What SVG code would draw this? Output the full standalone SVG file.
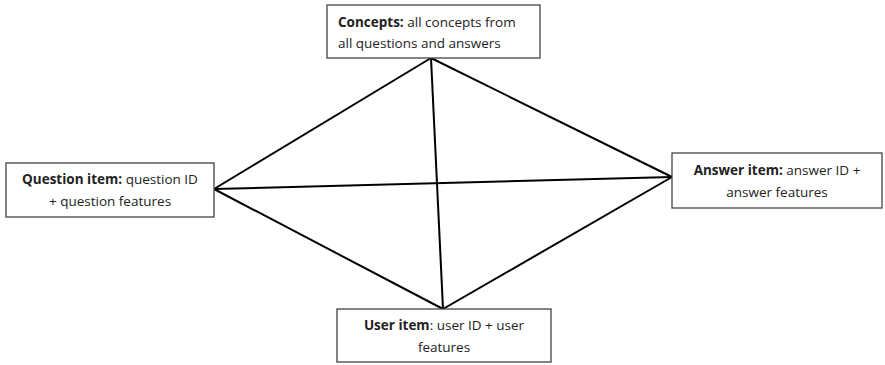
<svg xmlns="http://www.w3.org/2000/svg" width="885" height="365" viewBox="0 0 885 365">
<style>
.box{fill:#fff;stroke:#444;stroke-width:1.3}
.t{font-family:"Open Sans","Liberation Sans",sans-serif;font-size:13.5px;fill:#222}
.b{font-weight:bold}
.c{text-anchor:middle}
.ln{stroke:#000;stroke-width:2;fill:none}
</style>
<rect width="885" height="365" fill="#fff"/>
<g id="connectors">
<line class="ln" x1="431" y1="58" x2="214" y2="189"/>
<line class="ln" x1="431" y1="58" x2="672" y2="177"/>
<line class="ln" x1="431" y1="58" x2="443" y2="309"/>
<line class="ln" x1="214" y1="189" x2="672" y2="177"/>
<line class="ln" x1="214" y1="189" x2="443" y2="309"/>
<line class="ln" x1="672" y1="177" x2="443" y2="309"/>
</g>
<g id="concepts">
<rect class="box" x="327" y="5" width="213" height="53"/>
<text class="t" x="338" y="27"><tspan class="b">Concepts:</tspan> all concepts from</text>
<text class="t" x="338" y="48">all questions and answers</text>
</g>
<g id="question">
<rect class="box" x="6" y="163" width="208" height="54"/>
<text class="t c" x="110" y="184"><tspan class="b">Question item:</tspan> question ID</text>
<text class="t c" x="110" y="206">+ question features</text>
</g>
<g id="answer">
<rect class="box" x="672" y="153" width="210" height="55"/>
<text class="t c" x="777" y="175"><tspan class="b">Answer item:</tspan> answer ID +</text>
<text class="t c" x="777" y="197">answer features</text>
</g>
<g id="user">
<rect class="box" x="337" y="309" width="214" height="53"/>
<text class="t c" x="444" y="330"><tspan class="b">User item</tspan>: user ID + user</text>
<text class="t c" x="444" y="352">features</text>
</g>
</svg>
